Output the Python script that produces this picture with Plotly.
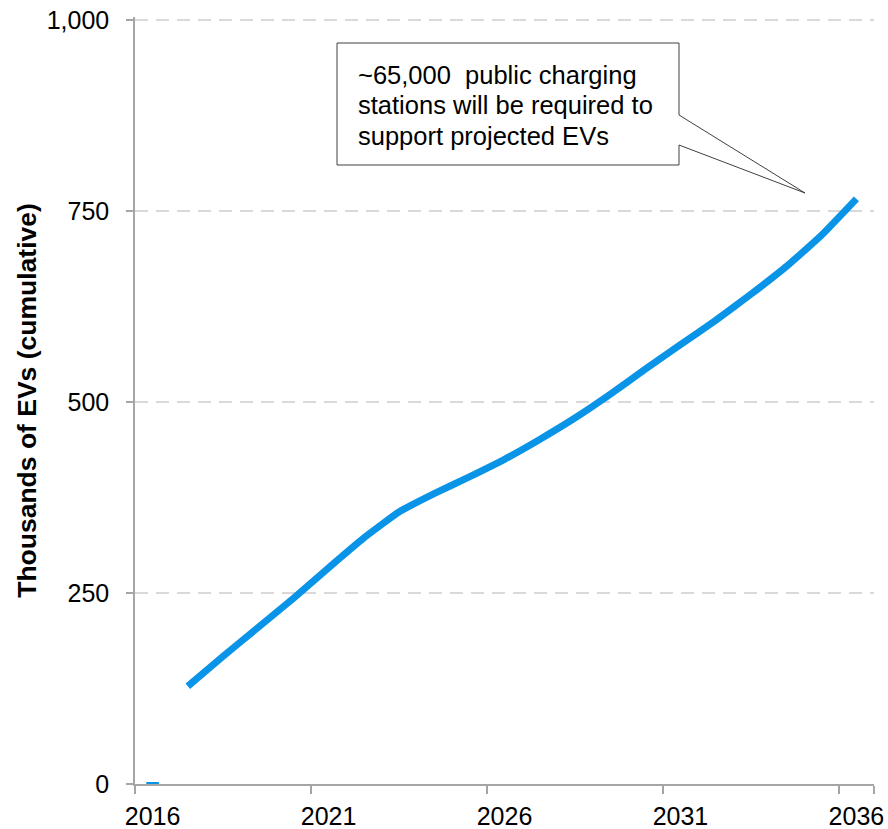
import plotly.graph_objects as go

# Category years on the horizontal axis
years = [str(y) for y in range(2016, 2037)]

# Cumulative EV fleet projection (thousands)
ev_years = [str(y) for y in range(2017, 2037)]
ev_thousands = [128, 167, 205, 243, 283, 322, 356, 380, 402, 425,
                451, 479, 510, 543, 575, 607, 641, 677, 718, 766]

# Starting value shown as a single point
base_years = ["2016"]
base_values = [0]

x_ticks = ["2016", "2021", "2026", "2031", "2036"]
y_ticks = [0, 250, 500, 750, 1000]

callout_lines = ["~65,000  public charging",
                 "stations will be required to",
                 "support projected EVs"]

BLUE = "#0A94E8"
AXIS = "#A6A6A6"
GRID = "#D9D9D9"
FONT = "Arial, Liberation Sans, sans-serif"

W, H = 888, 829
ML, MR, MT, MB = 135, 14, 17, 45
PW, PH = W - ML - MR, H - MT - MB


def px(x):
    return (x - ML) / PW


def py(y):
    return (H - MB - y) / PH


fig = go.Figure()
fig.add_trace(go.Scatter(
    x=ev_years, y=ev_thousands, mode="lines",
    line=dict(color=BLUE, width=7, shape="spline", smoothing=0.4),
    hoverinfo="x+y", showlegend=False,
))
fig.add_trace(go.Scatter(
    x=base_years, y=base_values, mode="markers",
    marker=dict(symbol="line-ew", size=9, color=BLUE,
                line=dict(color=BLUE, width=4)),
    showlegend=False, cliponaxis=False,
))

# Callout box with a pointer toward the end of the curve
bx0, bx1, by0, by1 = 337, 679, 43, 165
tip_x, tip_y = 805, 193
path = (f"M {px(bx0)},{py(by0)} L {px(bx1)},{py(by0)} L {px(bx1)},{py(115)} "
        f"L {px(tip_x)},{py(tip_y)} L {px(bx1)},{py(145)} L {px(bx1)},{py(by1)} "
        f"L {px(bx0)},{py(by1)} Z")
fig.add_shape(type="path", path=path, xref="paper", yref="paper",
              line=dict(color="#404040", width=1), fillcolor="white", layer="above")

line_y = [75, 105, 136]
for txt, ly in zip(callout_lines, line_y):
    fig.add_annotation(text=txt, xref="paper", yref="paper",
                       x=px(356), y=py(ly), xanchor="left", yanchor="middle",
                       showarrow=False, align="left",
                       font=dict(family=FONT, size=25.5, color="#000000"))

fig.update_layout(
    width=W, height=H,
    margin=dict(l=ML, r=MR, t=MT, b=MB, autoexpand=False),
    paper_bgcolor="white", plot_bgcolor="white",
    font=dict(family=FONT, size=25, color="#000000"),
    showlegend=False,
    xaxis=dict(
        type="category", categoryorder="array", categoryarray=years,
        range=[-0.5, len(years) - 0.5],
        tickmode="array", tickvals=x_ticks, ticktext=x_ticks, tickangle=0,
        ticks="outside", tickson="boundaries", ticklen=8, tickwidth=1.5,
        tickcolor=AXIS, showline=True, linecolor=AXIS, linewidth=1.5,
        showgrid=False, zeroline=False, ticklabelstandoff=9,
        tickfont=dict(family=FONT, size=25, color="#000000"),
    ),
    yaxis=dict(
        range=[0, 1004], tickmode="array", tickvals=y_ticks,
        tickformat=",", ticks="outside", ticklen=7, tickwidth=1.5,
        tickcolor=AXIS, showline=True, linecolor=AXIS, linewidth=1.5,
        showgrid=True, gridcolor=GRID, gridwidth=2, griddash="13px,8px",
        zeroline=False, ticklabelstandoff=12,
        tickfont=dict(family=FONT, size=25, color="#000000"),
        title=dict(text="<b>Thousands of EVs (cumulative)</b>", standoff=2,
                   font=dict(family=FONT, size=26.5, color="#000000")),
    ),
)

fig.write_html("out.html")
